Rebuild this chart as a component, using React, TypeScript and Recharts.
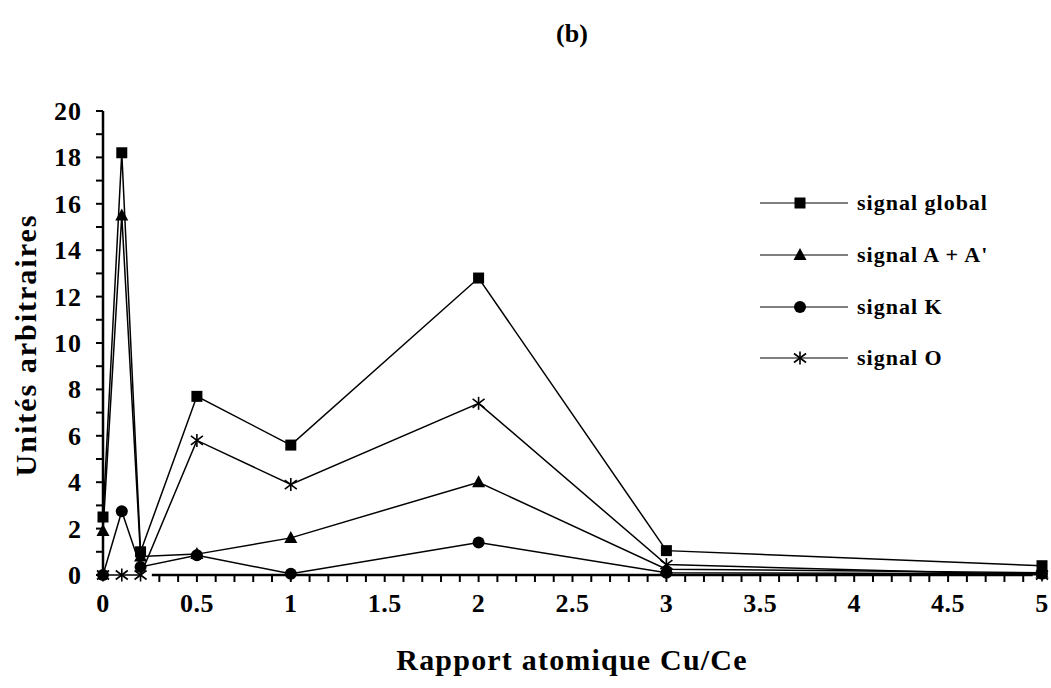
import React from 'react'
import { LineChart, Line, XAxis, YAxis, ReferenceLine } from 'recharts'

// Cu/Ce atomic ratio of each sample
const ratios = [0, 0.1, 0.2, 0.5, 1, 2, 3, 5]

// signal intensities (arbitrary units)
const signalGlobal = [2.5, 18.2, 1.0, 7.7, 5.6, 12.8, 1.05, 0.4]
const signalAA = [1.9, 15.5, 0.8, 0.9, 1.6, 4.0, 0.25, 0.1]
const signalK = [0, 2.75, 0.35, 0.85, 0.05, 1.4, 0.1, 0.05]
const signalO = [0, 0, 0, 5.8, 3.9, 7.4, 0.45, 0]

const xLabels = [0, 0.5, 1, 1.5, 2, 2.5, 3, 3.5, 4, 4.5, 5]
const yLabels = [0, 2, 4, 6, 8, 10, 12, 14, 16, 18, 20]

const seriesNames = ['signal global', "signal A + A'", 'signal K', 'signal O']
const seriesKeys = ['global', 'aa', 'k', 'o']
const seriesShapes: Shape[] = ['square', 'triangle', 'circle', 'star']

const data = ratios.map((r, i) => ({
  ratio: r,
  global: signalGlobal[i],
  aa: signalAA[i],
  k: signalK[i],
  o: signalO[i],
}))

// minor tick marks every 0.1 on x, every 1 on y
const xMinor = Array.from({ length: 51 }, (_, i) => i / 10)
const yMinor = Array.from({ length: 21 }, (_, i) => i)

const FONT = "'Liberation Serif', 'Times New Roman', serif"
const W = 1051
const H = 688

type Shape = 'square' | 'triangle' | 'circle' | 'star'

function Marker({ shape, cx, cy }: { shape: Shape; cx: number; cy: number }) {
  if (shape === 'square') {
    return <rect x={cx - 5.5} y={cy - 5.5} width={11} height={11} fill="#000" />
  }
  if (shape === 'triangle') {
    return <polygon points={`${cx},${cy - 7} ${cx + 6.5},${cy + 5} ${cx - 6.5},${cy + 5}`} fill="#000" />
  }
  if (shape === 'circle') {
    return <circle cx={cx} cy={cy} r={6} fill="#000" />
  }
  return (
    <g stroke="#000" strokeWidth={1.6}>
      <line x1={cx} y1={cy - 6.5} x2={cx} y2={cy + 6.5} />
      <line x1={cx - 6} x2={cx + 6} y1={cy - 4.5} y2={cy + 4.5} />
      <line x1={cx - 6} x2={cx + 6} y1={cy + 4.5} y2={cy - 4.5} />
    </g>
  )
}

function XTick({ x, y, payload }: any) {
  const v = Math.round(payload.value * 10) / 10
  const showMark = v >= 0.3 && v <= 4.9
  const showLabel = xLabels.includes(v)
  return (
    <g>
      {showMark && <line x1={x} x2={x} y1={y} y2={y + 7} stroke="#000" strokeWidth={2} />}
      {showLabel && (
        <text
          x={x}
          y={y + 37}
          textAnchor="middle"
          fontFamily={FONT}
          fontWeight="bold"
          fontSize={26}
          letterSpacing={0.5}
          fill="#000"
        >
          {v}
        </text>
      )}
    </g>
  )
}

function YTick({ x, y, payload }: any) {
  const v = payload.value
  return (
    <g>
      <line x1={x - 7} x2={x} y1={y} y2={y} stroke="#000" strokeWidth={2} />
      {yLabels.includes(v) && (
        <text
          x={x - 21}
          y={y + 9}
          textAnchor="end"
          fontFamily={FONT}
          fontWeight="bold"
          fontSize={26}
          letterSpacing={1}
          fill="#000"
        >
          {v}
        </text>
      )}
    </g>
  )
}

function LegendBox() {
  const rows = [203, 255, 307, 358]
  return (
    <g>
      {seriesNames.map((name, i) => (
        <g key={name}>
          <line x1={760} x2={848} y1={rows[i]} y2={rows[i]} stroke="#000" strokeWidth={1.2} />
          <Marker shape={seriesShapes[i]} cx={800} cy={rows[i]} />
          <text
            x={857}
            y={rows[i] + 7}
            fontFamily={FONT}
            fontWeight="bold"
            fontSize={22}
            letterSpacing={1}
            fill="#000"
          >
            {name}
          </text>
        </g>
      ))}
    </g>
  )
}

export default function App() {
  return (
    <div style={{ position: 'absolute', left: 0, top: 0, width: W, height: H, background: '#fff' }}>
      <LineChart
        width={W}
        height={H}
        data={data}
        margin={{ top: 111, right: 9, bottom: 53, left: 3 }}
      >
        <XAxis
          dataKey="ratio"
          type="number"
          domain={[0, 5]}
          ticks={xMinor}
          interval={0}
          axisLine={false}
          tickLine={false}
          tickSize={0}
          tickMargin={0}
          height={60}
          tick={<XTick />}
        />
        <YAxis
          type="number"
          domain={[0, 20]}
          ticks={yMinor}
          interval={0}
          width={100}
          axisLine={{ stroke: '#000', strokeWidth: 2.5 }}
          tickLine={false}
          tickSize={0}
          tickMargin={0}
          tick={<YTick />}
        />
        <ReferenceLine
          segment={[{ x: 0.26, y: 0 }, { x: 4.95, y: 0 }]}
          stroke="#000"
          strokeWidth={2.5}
        />
        {seriesKeys.map((key, i) => (
          <Line
            key={key}
            dataKey={key}
            name={seriesNames[i]}
            type="linear"
            stroke="#000"
            strokeWidth={1.5}
            isAnimationActive={false}
            dot={(p: any) => (
              <g key={`${key}-${p.index}`}>
                <Marker shape={seriesShapes[i]} cx={p.cx} cy={p.cy} />
              </g>
            )}
            activeDot={false}
          />
        ))}
      </LineChart>
      <svg width={W} height={H} style={{ position: 'absolute', left: 0, top: 0, pointerEvents: 'none' }}>
        <text x={572} y={42} textAnchor="middle" fontFamily={FONT} fontWeight="bold" fontSize={26}>
          (b)
        </text>
        <text
          x={0}
          y={0}
          transform="translate(36 345) rotate(-90)"
          textAnchor="middle"
          fontFamily={FONT}
          fontWeight="bold"
          fontSize={30}
          letterSpacing={2}
        >
          Unités arbitraires
        </text>
        <text
          x={572}
          y={670}
          textAnchor="middle"
          fontFamily={FONT}
          fontWeight="bold"
          fontSize={30}
          letterSpacing={1.2}
        >
          Rapport atomique Cu/Ce
        </text>
        <LegendBox />
      </svg>
    </div>
  )
}
